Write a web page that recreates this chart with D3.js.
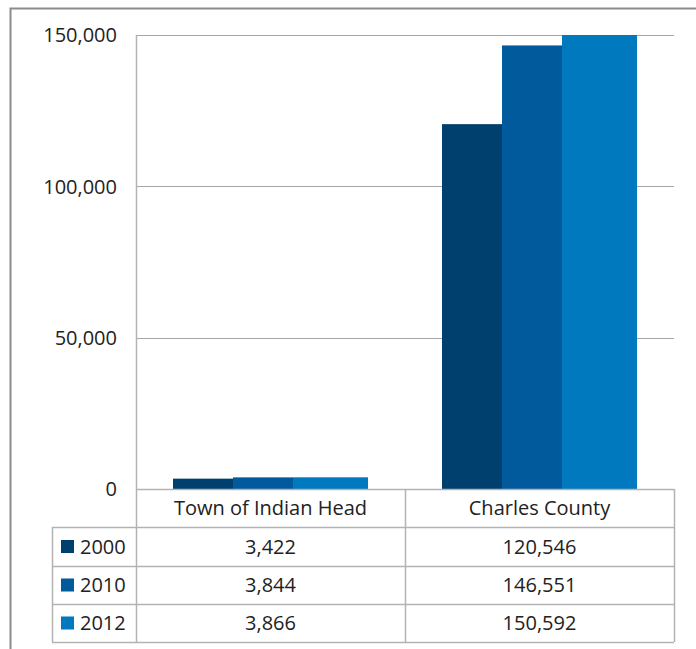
<!DOCTYPE html>
<html><head><meta charset="utf-8">
<script src="https://cdn.jsdelivr.net/npm/d3@7"></script>
<style>body{margin:0;background:#fff;} svg{display:block;}</style>
</head><body>
<script>
const categories = ["Town of Indian Head", "Charles County"];
const series = ["2000", "2010", "2012"];
const values = {
  "2000": [3422, 120546],
  "2010": [3844, 146551],
  "2012": [3866, 150592]
};
const tickValues = [0, 50000, 100000, 150000];
const colors = ["#00406f", "#005a9b", "#0079be"];

const W = 696, H = 649;
const m = {left: 136, right: 674, top: 35, bottom: 489};
const font = "'Open Sans', sans-serif";
const fs = 20;
const svg = d3.select("body").append("svg").attr("width", W).attr("height", H);

// outer frame
svg.append("rect").attr("x", 10.5).attr("y", 8.5).attr("width", 700).attr("height", 700)
  .attr("fill", "none").attr("stroke", "#8c8c8c").attr("stroke-width", 2);

const y = d3.scaleLinear().domain([0, 150000]).range([m.bottom, m.top]);
const x0 = d3.scaleBand().domain(categories).range([m.left, m.right]).paddingInner(0).paddingOuter(0);
const groupPad = 37;
const x1 = d3.scaleBand().domain(series).range([0, x0.bandwidth() - 2 * groupPad - 15]);

// gridlines
svg.append("g").selectAll("line").data(tickValues.slice(1)).join("line")
  .attr("x1", m.left).attr("x2", m.right)
  .attr("y1", d => Math.round(y(d)) + 0.5).attr("y2", d => Math.round(y(d)) + 0.5)
  .attr("stroke", "#a6a6a6").attr("stroke-width", 1);

// y labels
svg.append("g").selectAll("text").data(tickValues).join("text")
  .attr("x", 117).attr("y", d => y(d)).attr("dy", "0.36em")
  .attr("text-anchor", "end").attr("font-family", font).attr("font-size", fs).attr("fill", "#222")
  .text(d => d3.format(",")(d));

// bars
svg.append("clipPath").attr("id", "pc").append("rect")
  .attr("x", m.left).attr("y", m.top).attr("width", m.right - m.left).attr("height", m.bottom - m.top);
const bars = svg.append("g").attr("clip-path", "url(#pc)");
series.forEach((s, si) => {
  bars.selectAll(".b" + s).data(categories).join("rect")
    .attr("x", c => x0(c) + groupPad + x1(s))
    .attr("width", x1.bandwidth() + (si === series.length - 1 ? 15 : 0))
    .attr("y", (c, i) => y(values[s][i]))
    .attr("height", (c, i) => m.bottom - y(values[s][i]))
    .attr("fill", colors[si]);
});

// axis lines
const lineC = "#b3b3b3";
svg.append("line").attr("x1", m.left + 0.5).attr("x2", m.left + 0.5).attr("y1", m.top).attr("y2", 642)
  .attr("stroke", lineC).attr("stroke-width", 1.5);

// table
const rowY = [489, 527, 566, 604, 642];
const tLeft = 52;
const g = svg.append("g");
rowY.forEach((ry, i) => {
  g.append("line").attr("x1", i === 0 ? m.left : tLeft).attr("x2", m.right)
    .attr("y1", ry + 0.5).attr("y2", ry + 0.5).attr("stroke", lineC).attr("stroke-width", 1.5);
});
g.append("line").attr("x1", tLeft + 0.5).attr("x2", tLeft + 0.5).attr("y1", rowY[1]).attr("y2", rowY[4]).attr("stroke", lineC).attr("stroke-width", 1.5);
[x0(categories[1]), m.right].forEach(vx => {
  g.append("line").attr("x1", vx + 0.5).attr("x2", vx + 0.5).attr("y1", rowY[0]).attr("y2", rowY[4]).attr("stroke", lineC).attr("stroke-width", 1.5);
});
g.selectAll(".hdr").data(categories).join("text")
  .attr("x", c => x0(c) + x0.bandwidth() / 2).attr("y", (rowY[0] + rowY[1]) / 2).attr("dy", "0.36em")
  .attr("text-anchor", "middle").attr("font-family", font).attr("font-size", fs).attr("fill", "#222")
  .text(c => c);
series.forEach((s, si) => {
  const cy = (rowY[si + 1] + rowY[si + 2]) / 2;
  g.append("rect").attr("x", 61).attr("y", cy - 6.5).attr("width", 13).attr("height", 13).attr("fill", colors[si]);
  g.append("text").attr("x", 80).attr("y", cy).attr("dy", "0.36em")
    .attr("font-family", font).attr("font-size", fs).attr("fill", "#222").text(s);
  categories.forEach((c, ci) => {
    g.append("text").attr("x", x0(c) + x0.bandwidth() / 2).attr("y", cy).attr("dy", "0.36em")
      .attr("text-anchor", "middle").attr("font-family", font).attr("font-size", fs).attr("fill", "#222")
      .text(d3.format(",")(values[s][ci]));
  });
});
</script>
</body></html>
